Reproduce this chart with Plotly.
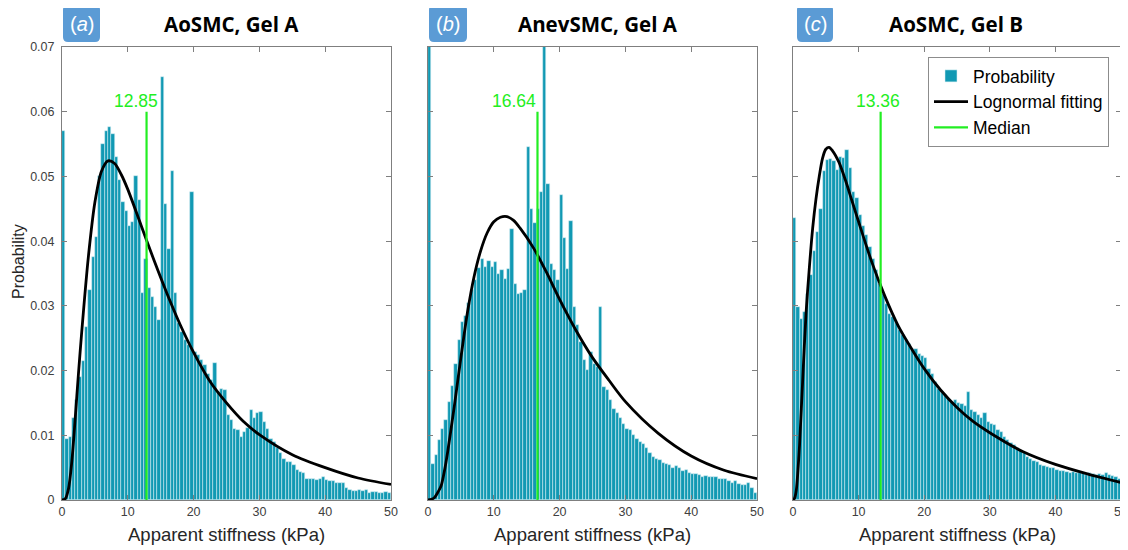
import plotly.graph_objects as go

# ---------------- data ----------------
BIN_WIDTH = 0.5
BIN_CENTERS = [0.25 + 0.5 * i for i in range(100)]

PROB_A = [0.0570, 0.0095, 0.0098, 0.0126, 0.0154, 0.0190, 0.0215, 0.0267, 0.0324, 0.0375,
          0.0406, 0.0500, 0.0550, 0.0570, 0.0576, 0.0566, 0.0530, 0.0494, 0.0460, 0.0447,
          0.0424, 0.0430, 0.0500, 0.0463, 0.0320, 0.0373, 0.0327, 0.0314, 0.0298, 0.0278,
          0.0654, 0.0458, 0.0388, 0.0509, 0.0320, 0.0273, 0.0260, 0.0247, 0.0240, 0.0476,
          0.0229, 0.0224, 0.0216, 0.0208, 0.0195, 0.0185, 0.0211, 0.0167, 0.0172, 0.0170,
          0.0131, 0.0123, 0.0110, 0.0108, 0.0098, 0.0105, 0.0112, 0.0139, 0.0126, 0.0134,
          0.0136, 0.0121, 0.0110, 0.0095, 0.0090, 0.0080, 0.0072, 0.0064, 0.0059, 0.0059,
          0.0054, 0.0046, 0.0044, 0.0041, 0.0033, 0.0033, 0.0033, 0.0031, 0.0033, 0.0036,
          0.0031, 0.0030, 0.0030, 0.0026, 0.0026, 0.0026, 0.0018, 0.0016, 0.0014, 0.0014,
          0.0016, 0.0014, 0.0016, 0.0011, 0.0012, 0.0012, 0.0011, 0.0011, 0.0012, 0.0011]

PROB_B = [0.0750, 0.0056, 0.0069, 0.0093, 0.0110, 0.0123, 0.0152, 0.0176, 0.0210, 0.0247,
          0.0275, 0.0284, 0.0305, 0.0325, 0.0340, 0.0359, 0.0373, 0.0360, 0.0370, 0.0360,
          0.0368, 0.0350, 0.0356, 0.0342, 0.0357, 0.0418, 0.0334, 0.0319, 0.0320, 0.0325,
          0.0546, 0.0450, 0.0428, 0.0449, 0.0476, 0.0750, 0.0488, 0.0365, 0.0355, 0.0340,
          0.0472, 0.0405, 0.0357, 0.0431, 0.0298, 0.0270, 0.0244, 0.0216, 0.0201, 0.0229,
          0.0210, 0.0205, 0.0298, 0.0175, 0.0170, 0.0154, 0.0141, 0.0134, 0.0126, 0.0118,
          0.0110, 0.0108, 0.0100, 0.0095, 0.0090, 0.0087, 0.0080, 0.0072, 0.0067, 0.0064,
          0.0062, 0.0057, 0.0056, 0.0054, 0.0050, 0.0052, 0.0049, 0.0045, 0.0046, 0.0041,
          0.0040, 0.0040, 0.0039, 0.0036, 0.0037, 0.0035, 0.0036, 0.0035, 0.0033, 0.0032,
          0.0032, 0.0030, 0.0027, 0.0030, 0.0025, 0.0023, 0.0023, 0.0026, 0.0018, 0.0011]

PROB_C = [0.0435, 0.0298, 0.0280, 0.0290, 0.0319, 0.0347, 0.0385, 0.0414, 0.0450, 0.0509,
          0.0525, 0.0527, 0.0524, 0.0510, 0.0530, 0.0529, 0.0541, 0.0513, 0.0476, 0.0466,
          0.0440, 0.0424, 0.0409, 0.0391, 0.0373, 0.0355, 0.0334, 0.0319, 0.0303, 0.0288,
          0.0283, 0.0273, 0.0263, 0.0255, 0.0247, 0.0241, 0.0234, 0.0233, 0.0226, 0.0222,
          0.0220, 0.0203, 0.0195, 0.0183, 0.0172, 0.0165, 0.0160, 0.0156, 0.0152, 0.0155,
          0.0150, 0.0149, 0.0145, 0.0167, 0.0139, 0.0136, 0.0131, 0.0126, 0.0134, 0.0121,
          0.0118, 0.0116, 0.0108, 0.0105, 0.0098, 0.0093, 0.0088, 0.0085, 0.0080, 0.0075,
          0.0072, 0.0067, 0.0063, 0.0061, 0.0058, 0.0054, 0.0053, 0.0051, 0.0049, 0.0049,
          0.0046, 0.0045, 0.0045, 0.0044, 0.0042, 0.0044, 0.0041, 0.0042, 0.0041, 0.0039,
          0.0041, 0.0040, 0.0039, 0.0040, 0.0039, 0.0041, 0.0039, 0.0037, 0.0036, 0.0033]

FIT_X_A = [0, 0.5, 1, 1.5, 2, 2.5, 3, 4, 5, 6, 7, 8, 9, 10, 12, 14, 16, 18, 20, 22.5, 25, 27.5, 30, 35, 40, 45, 50]
FIT_Y_A = [0, 0.0002, 0.0018, 0.0060, 0.0125, 0.0195, 0.0260, 0.0375, 0.0460, 0.0508, 0.0524, 0.0520, 0.0503,
           0.0480, 0.0425, 0.0370, 0.0318, 0.0270, 0.0228, 0.0183, 0.0150, 0.0122, 0.0101, 0.0070, 0.0050,
           0.0034, 0.0024]

FIT_X_B = [0, 0.5, 1, 1.5, 2, 2.5, 3, 4, 5, 6, 7, 8, 9, 10, 11, 12, 13, 14, 16, 18, 20, 22.5, 25, 27.5, 30, 35, 40, 45, 50]
FIT_Y_B = [0, 0.0001, 0.0004, 0.0012, 0.0022, 0.0045, 0.0075, 0.0145, 0.0220, 0.0290, 0.0345, 0.0385, 0.0413,
           0.0430, 0.0437, 0.0438, 0.0432, 0.0420, 0.0390, 0.0352, 0.0310, 0.0262, 0.0220, 0.0185, 0.0152,
           0.0103, 0.0068, 0.0046, 0.0033]

FIT_X_C = [0, 0.25, 0.5, 0.75, 1, 1.5, 2, 2.5, 3, 3.5, 4, 4.5, 5, 5.5, 6, 7, 8, 9, 10, 12, 14, 16, 18, 20,
           22.5, 25, 27.5, 30, 35, 40, 45, 50]
FIT_Y_C = [0, 0.0003, 0.0015, 0.0045, 0.0085, 0.0190, 0.0290, 0.0360, 0.0420, 0.0465, 0.0500, 0.0528, 0.0542,
           0.0545, 0.0540, 0.0522, 0.0494, 0.0462, 0.0430, 0.0368, 0.0315, 0.0270, 0.0235, 0.0203, 0.0170,
           0.0143, 0.0121, 0.0104, 0.0075, 0.0055, 0.0040, 0.0027]

MEDIANS = [12.85, 16.64, 13.36]
MEDIAN_LINE_TOP = 0.06
MEDIAN_LABEL_X = [11.3, 13.05, 13.0]
TITLES = ["AoSMC, Gel A", "AnevSMC, Gel A", "AoSMC, Gel B"]
PANEL_LETTERS = ["a", "b", "c"]
X_TICKS = [0, 10, 20, 30, 40, 50]
Y_TICKS = [0, 0.01, 0.02, 0.03, 0.04, 0.05, 0.06, 0.07]

# ---------------- style ----------------
# The page body has an 8px margin, so the figure is drawn 8px smaller and
# all screen positions below are converted with that offset.
OFF = 8
W, H = 1128 - OFF, 550 - OFF
BAR_COLOR = "#1199b3"
BAR_EDGE = "rgba(215,238,243,0.9)"
GREEN = "#22ee22"
AXIS_GREY = "#7f7f7f"
TEXT_GREY = "#404040"
SANS = "Liberation Sans, Arial, sans-serif"
TITLE_FONT = "Open Sans, Noto Sans, sans-serif"

# screen-pixel layout of the three axes boxes
PANEL_PX = [(62, 391), (428, 757), (793, 1121)]
TOP_PX, BOTTOM_PX = 47, 500
LABEL_BOX_PX = [(63, 100), (429, 467), (797, 833)]
TITLE_CX_PX = [231.5, 597.5, 955.5]


def px(x):
    return (x - OFF) / W


def py(y):
    return 1 - (y - OFF) / H


def rounded_rect(x0, y0, x1, y1, r):
    rx, ry = r / W, r / H
    X0, X1 = px(x0), px(x1)
    Y0, Y1 = py(y0), py(y1)  # Y0 top (larger)
    return (f"M {X0+rx},{Y0} L {X1-rx},{Y0} Q {X1},{Y0} {X1},{Y0-ry} "
            f"L {X1},{Y1+ry} Q {X1},{Y1} {X1-rx},{Y1} L {X0+rx},{Y1} "
            f"Q {X0},{Y1} {X0},{Y1+ry} L {X0},{Y0-ry} Q {X0},{Y0} {X0+rx},{Y0} Z")


fig = go.Figure()
probs = [PROB_A, PROB_B, PROB_C]
fits = [(FIT_X_A, FIT_Y_A), (FIT_X_B, FIT_Y_B), (FIT_X_C, FIT_Y_C)]

for i in range(3):
    ax = "" if i == 0 else str(i + 1)
    show = (i == 2)
    fig.add_trace(go.Bar(
        x=BIN_CENTERS, y=probs[i], width=BIN_WIDTH, name="Probability",
        marker=dict(color=BAR_COLOR, line=dict(color=BAR_EDGE, width=0.6)),
        xaxis="x" + ax, yaxis="y" + ax, showlegend=show, legendrank=1))
    fig.add_trace(go.Scatter(
        x=fits[i][0], y=fits[i][1], mode="lines", name="Lognormal fitting",
        line=dict(color="black", width=2.8, shape="spline", smoothing=0.8),
        xaxis="x" + ax, yaxis="y" + ax, showlegend=show, legendrank=2))
    fig.add_trace(go.Scatter(
        x=[MEDIANS[i], MEDIANS[i]], y=[0, MEDIAN_LINE_TOP], mode="lines", name="Median",
        line=dict(color=GREEN, width=2.2),
        xaxis="x" + ax, yaxis="y" + ax, showlegend=show, legendrank=3))

axis_common = dict(
    showgrid=False, zeroline=False, showline=True, linecolor=AXIS_GREY, linewidth=1,
    mirror="ticks", ticks="inside", ticklen=5, tickcolor=AXIS_GREY, tickwidth=1,
    automargin=False,
)

layout = dict(
    width=W, height=H, plot_bgcolor="white", paper_bgcolor="white",
    margin=dict(l=0, r=0, t=0, b=0, pad=0), barmode="overlay", bargap=0,
    legend=dict(x=px(928), y=py(57), xanchor="left", yanchor="top",
                bordercolor="#8c8c8c", borderwidth=1, bgcolor="white",
                font=dict(family=SANS, size=17.5, color="black"),
                itemwidth=34, tracegroupgap=0),
)

annotations = []
shapes = []
for i in range(3):
    ax = "" if i == 0 else str(i + 1)
    x0, x1 = PANEL_PX[i]
    layout["xaxis" + ax] = dict(
        axis_common, domain=[px(x0), px(x1)], range=[0, 50], tickvals=X_TICKS,
        anchor="y" + ax, tickfont=dict(family=SANS, size=12.5, color=TEXT_GREY))
    layout["yaxis" + ax] = dict(
        axis_common, domain=[py(BOTTOM_PX), py(TOP_PX)], range=[0, 0.07], tickvals=Y_TICKS,
        anchor="x" + ax, showticklabels=(i == 0), ticklabelstandoff=4,
        tickfont=dict(family=SANS, size=12.5, color=TEXT_GREY))
    # x axis title
    annotations.append(dict(
        text="Apparent stiffness (kPa)", xref="paper", yref="paper",
        x=px((x0 + x1) / 2), y=py(534), showarrow=False, xanchor="center", yanchor="middle",
        font=dict(family=SANS, size=18.5, color="#262626")))
    # panel title
    annotations.append(dict(
        text="<b>" + TITLES[i] + "</b>", xref="paper", yref="paper",
        x=px(TITLE_CX_PX[i]), y=py(24), showarrow=False, xanchor="center", yanchor="middle",
        font=dict(family=TITLE_FONT, size=20.5, color="black")))
    # panel letter box
    bx0, bx1 = LABEL_BOX_PX[i]
    shapes.append(dict(type="path", xref="paper", yref="paper",
                       path=rounded_rect(bx0, 5, bx1, 42, 5),
                       fillcolor="#5b9bd5", line=dict(width=0)))
    annotations.append(dict(
        text="(<i>" + PANEL_LETTERS[i] + "</i>)", xref="paper", yref="paper",
        x=px((bx0 + bx1) / 2), y=py(23.5), showarrow=False, xanchor="center", yanchor="middle",
        font=dict(family=SANS, size=20, color="white")))
    # median label
    annotations.append(dict(
        text=f"{MEDIANS[i]:.2f}", xref="x" + ax, yref="y" + ax,
        x=MEDIAN_LABEL_X[i], y=0.0616, showarrow=False, xanchor="center", yanchor="middle",
        font=dict(family=SANS, size=17.5, color=GREEN)))

annotations.append(dict(
    text="Probability", xref="paper", yref="paper", x=px(18), y=py(262),
    showarrow=False, textangle=-90, xanchor="center", yanchor="middle",
    font=dict(family=SANS, size=16, color="#262626")))

layout["annotations"] = annotations
layout["shapes"] = shapes
fig.update_layout(**layout)

fig.write_html("out.html")
